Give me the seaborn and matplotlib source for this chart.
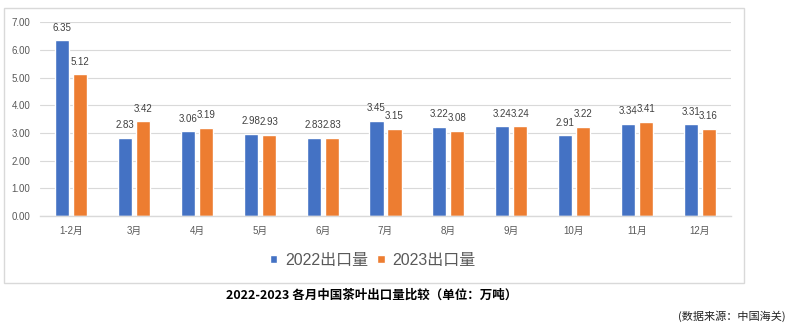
import matplotlib
matplotlib.use("Agg")
import matplotlib.pyplot as plt
from matplotlib.patches import Rectangle
import seaborn as sns
import pandas as pd

months = ["1-2月", "3月", "4月", "5月", "6月", "7月", "8月", "9月", "10月", "11月", "12月"]
exports_2022 = [6.35, 2.83, 3.06, 2.98, 2.83, 3.45, 3.22, 3.24, 2.91, 3.34, 3.31]
exports_2023 = [5.12, 3.42, 3.19, 2.93, 2.83, 3.15, 3.08, 3.24, 3.22, 3.41, 3.16]
series_names = ["2022出口量", "2023出口量"]
y_ticks = [0, 1, 2, 3, 4, 5, 6, 7]

df = pd.DataFrame({
    "月份": months * 2,
    "出口量": exports_2022 + exports_2023,
    "年份": [series_names[0]] * len(months) + [series_names[1]] * len(months),
})

sns.set_theme(style="white")
plt.rcParams["font.family"] = ["Liberation Sans", "Noto Sans CJK SC", "DejaVu Sans"]

W, H = 793, 329
fig = plt.figure(figsize=(W / 100, H / 100), dpi=100)
ax = fig.add_axes([40 / W, (H - 216) / H, (731 - 40) / W, (216 - 22.3) / H])

palette = ["#4472C4", "#ED7D31"]
sns.barplot(data=df, x="月份", y="出口量", hue="年份", order=months,
            hue_order=series_names, palette=palette, width=0.573, gap=0.22,
            saturation=1, ax=ax, legend=True)

ax.set_ylim(0, 7)
ax.set_xlim(-0.5, len(months) - 0.5)
ax.set_yticks(y_ticks)
ax.set_yticklabels([f"{v:.2f}" for v in y_ticks])
ax.set_xlabel("")
ax.set_ylabel("")
ax.grid(axis="y", color="#D9D9D9", linewidth=0.8)
ax.set_axisbelow(True)
for side in ["top", "right", "left"]:
    ax.spines[side].set_visible(False)
ax.spines["bottom"].set_color("#D9D9D9")
ax.spines["bottom"].set_linewidth(1.0)
ax.tick_params(axis="both", length=0, labelsize=7, labelcolor="#595959")
ax.tick_params(axis="y", pad=7)
ax.tick_params(axis="x", pad=7)

# value labels above each bar
for container in ax.containers:
    ax.bar_label(container, fmt="%.2f", padding=5.5, fontsize=7, color="#404040")

handles, labels = ax.get_legend_handles_labels()
ax.get_legend().remove()
fig.legend(handles, labels, loc="center", bbox_to_anchor=(373 / W, (H - 260) / H),
           ncol=2, frameon=False, fontsize=11.5, labelcolor="#595959",
           handlelength=0.45, handleheight=0.45, handletextpad=0.5,
           columnspacing=0.55, prop={"family": ["Liberation Sans", "Noto Sans CJK SC"], "size": 11.5})

# chart frame
fig.add_artist(Rectangle((4 / W, (H - 283) / H), (744 - 4) / W, (283 - 8) / H,
                         transform=fig.transFigure, fill=False,
                         edgecolor="#D9D9D9", linewidth=1.0))

fig.text(371.5 / W, (H - 295.5) / H, "2022-2023 各月中国茶叶出口量比较（单位：万吨）",
         ha="center", va="center", fontsize=9, fontweight="bold", color="#000000",
         family=["Noto Sans CJK SC"])
fig.text(786 / W, (H - 316.5) / H, "(数据来源：中国海关)",
         ha="right", va="center", fontsize=8, color="#222222",
         family=["Noto Sans CJK SC"])

fig.savefig("out.png", dpi=100, facecolor="white")
